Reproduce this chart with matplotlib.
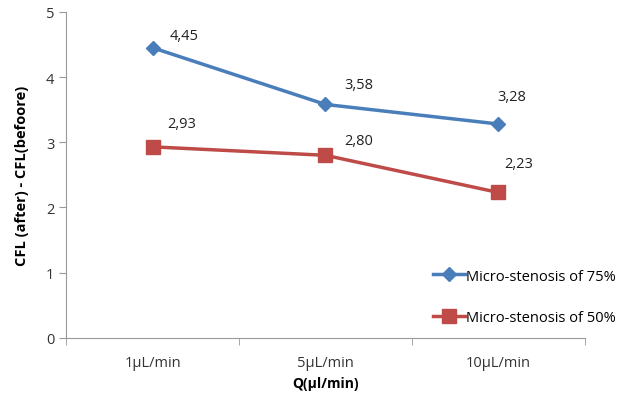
import matplotlib.pyplot as plt
import numpy as np

categories = ['1μL/min', '5μL/min', '10μL/min']
stenosis_75 = [4.45, 3.58, 3.28]
stenosis_50 = [2.93, 2.80, 2.23]
labels_75 = ['4,45', '3,58', '3,28']
labels_50 = ['2,93', '2,80', '2,23']

plt.rcParams['font.family'] = ['Open Sans', 'DejaVu Sans']

fig = plt.figure(figsize=(6.17, 4.02), dpi=100)
ax = fig.add_axes([0.107, 0.157, 0.841, 0.811])

x = np.arange(len(categories))
ax.plot(x, stenosis_75, color='#4A7EBB', lw=2.5, marker='D', ms=7,
        label='Micro-stenosis of 75%')
ax.plot(x, stenosis_50, color='#BE4B48', lw=2.5, marker='s', ms=10,
        label='Micro-stenosis of 50%')

# label offsets in pixels (left edge, vertical centre)
off_75 = [(17, 12), (19, 20), (-1, 28)]
off_50 = [(15, 23), (19, 15), (6, 29)]
for xi, v, t, o in zip(x, stenosis_75, labels_75, off_75):
    ax.annotate(t, (xi, v), xytext=o, textcoords='offset pixels',
                fontsize=10.5, color='#222222', va='center')
for xi, v, t, o in zip(x, stenosis_50, labels_50, off_50):
    ax.annotate(t, (xi, v), xytext=o, textcoords='offset pixels',
                fontsize=10.5, color='#222222', va='center')

ax.set_xlim(-0.5, 2.5)
ax.set_ylim(0, 5)
ax.set_yticks(range(6))
ax.set_xticks(x)
ax.set_xticklabels(categories)
ax.set_xticks([-0.5, 0.5, 1.5, 2.5], minor=True)
ax.tick_params(axis='x', which='major', length=0, pad=12, labelsize=10.5, colors='#333333')
ax.tick_params(axis='x', which='minor', length=5, color='#999999')
ax.tick_params(axis='y', length=5, color='#999999', labelsize=10.5, labelcolor='#333333')

for s in ['top', 'right']:
    ax.spines[s].set_visible(False)
for s in ['left', 'bottom']:
    ax.spines[s].set_color('#999999')

ax.set_xlabel('Q(μl/min)', fontsize=10, fontweight='bold', labelpad=5)
ax.set_ylabel('CFL (after) - CFL(befoore)', fontsize=10.5, fontweight='bold', labelpad=12)

ax.legend(loc='lower right', bbox_to_anchor=(1.085, 0.0), frameon=False,
          fontsize=10.5, labelspacing=1.8, handlelength=2.2, handletextpad=0.1)

fig.savefig('out.png', dpi=100)
